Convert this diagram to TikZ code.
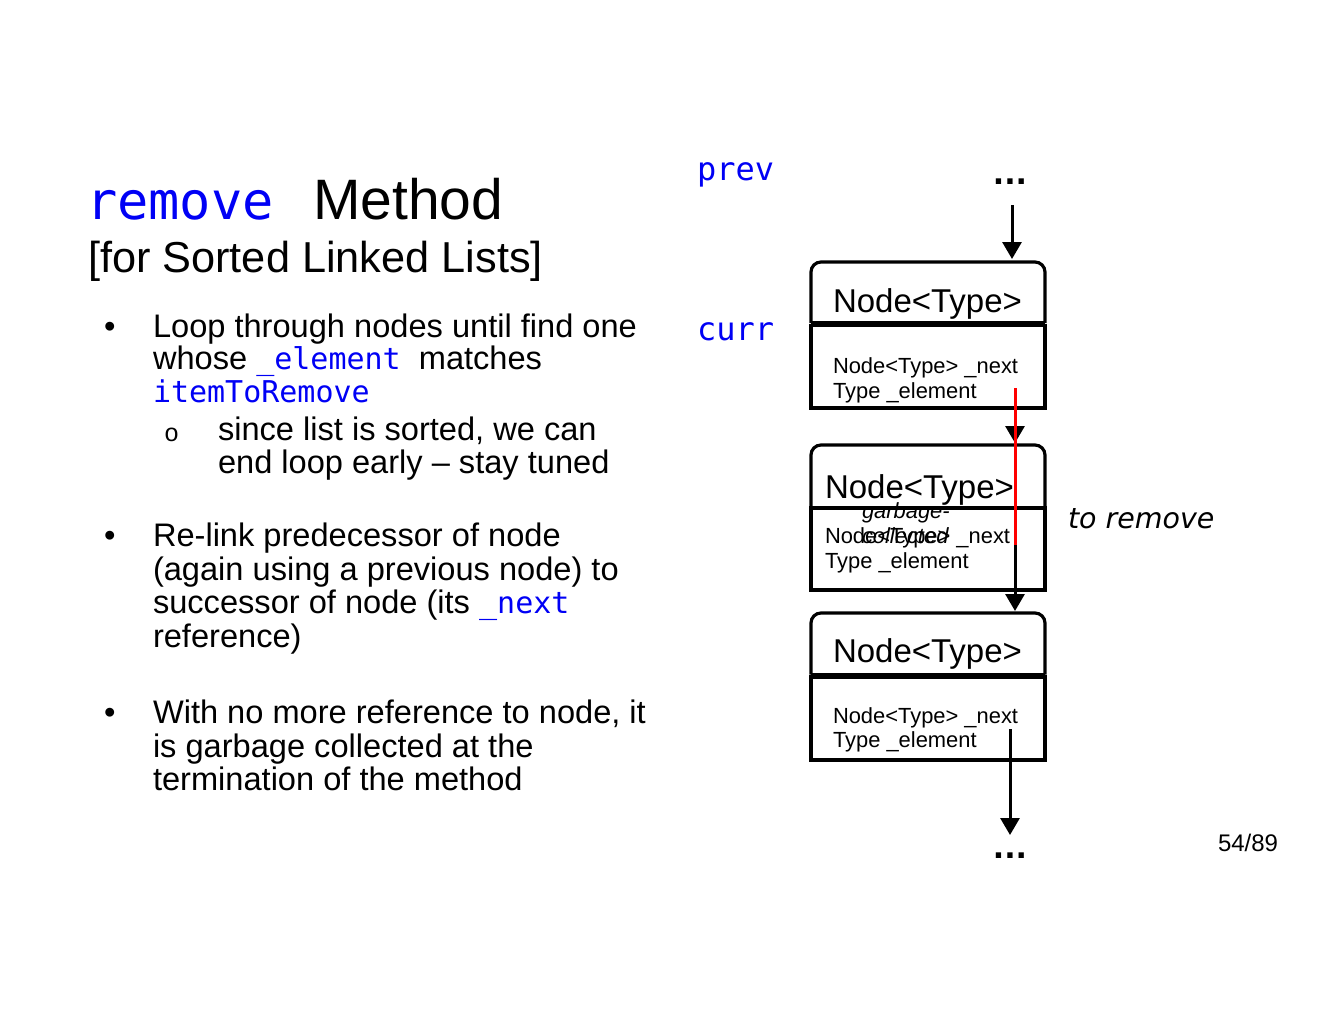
\documentclass[tikz,border=0pt]{standalone}
\usepackage{fontspec}
\setmainfont{Liberation Sans}
\newfontfamily\codefont{DejaVu Sans Mono}
\newfontfamily\dvsans{DejaVu Sans}
\newfontfamily\bulletmono{Liberation Mono}
\usetikzlibrary{arrows.meta}
\definecolor{codeblue}{RGB}{0,0,245}
\newcommand{\inlcode}[1]{{\codefont\fontsize{30}{34}\selectfont\color{codeblue}#1}}
\begin{document}
\begin{tikzpicture}[x=1pt,y=-1pt,
  txt/.style={anchor=base west, inner sep=0pt, outer sep=0pt},
  bodytxt/.style={txt, font=\fontsize{32.6}{34}\selectfont},
  bigcode/.style={txt, font=\codefont\fontsize{32}{34}\selectfont, text=codeblue},
  headtxt/.style={txt, font=\fontsize{33}{34}\selectfont},
  fieldtxt/.style={txt, font=\fontsize{21.9}{24}\selectfont},
  gctxt/.style={txt, font=\itshape\fontsize{21.9}{24}\selectfont},
  part/.style={rectangle, inner sep=0pt, outer sep=0pt, minimum width=234pt},
  partbody/.style={part, draw, line width=3.2pt},
  boxline/.style={line width=3.2pt, black},
  arr/.style={line width=3pt, black, -{Triangle[length=17pt,width=19pt]}},
  relink/.style={line width=3pt, red},
  dotstxt/.style={anchor=base, inner sep=0pt, font=\dvsans\bfseries\fontsize{30}{30}\selectfont},
]
\useasboundingbox (0,0) rectangle (1320,1020);

% title
\node[txt, font=\codefont\fontsize{52}{56}\selectfont, text=codeblue] (ttlcode) at (86,219) {remove};
\node[txt, font=\fontsize{57}{60}\selectfont] (ttlmethod) at (313,219) {Method};
\node[txt, font=\fontsize{43.3}{48}\selectfont] (ttlsub) at (88,272) {[for Sorted Linked Lists]};

% bullet 1
\node[bodytxt] (bul1) at (104,337) {•};
\node[bodytxt] (b1l1) at (153,337) {Loop through nodes until find one};
\node[bodytxt] (b1l2) at (153,369) {whose \inlcode{\_element }matches};
\node[bodytxt] (b1l3) at (153,402) {\inlcode{itemToRemove}};
\node[txt, font=\bulletmono\fontsize{25}{26}\selectfont] (sub1) at (164,441) {o};
\node[bodytxt] (s1l1) at (218,440) {since list is sorted, we can};
\node[bodytxt] (s1l2) at (218,473) {end loop early -- stay tuned};

% bullet 2
\node[bodytxt] (bul2) at (104,546) {•};
\node[bodytxt] (b2l1) at (153,546) {Re-link predecessor of node};
\node[bodytxt] (b2l2) at (153,580) {(again using a previous node) to};
\node[bodytxt] (b2l3) at (153,613) {successor of node (its \inlcode{\_next}};
\node[bodytxt] (b2l4) at (153,647) {reference)};

% bullet 3
\node[bodytxt] (bul3) at (104,723) {•};
\node[bodytxt] (b3l1) at (153,723) {With no more reference to node, it};
\node[bodytxt] (b3l2) at (153,757) {is garbage collected at the};
\node[bodytxt] (b3l3) at (153,790) {termination of the method};

% labels
\node[bigcode] (prevlbl) at (697,180) {prev};
\node[bigcode] (currlbl) at (697,340) {curr};
\node[txt, font=\dvsans\itshape\fontsize{28.5}{30}\selectfont] (toremove) at (1068,528) {to remove};
\node[txt, font=\fontsize{24}{26}\selectfont] (pagenum) at (1218,851) {54/89};

% box 1
\node[part, minimum height=61pt] (h1) at (928,292.5) {};
\node[partbody, minimum height=82.5pt] (b1) at (928,366.75) {};
\draw[boxline, rounded corners=10pt] (h1.south west) -- (h1.north west) -- (h1.north east) -- (h1.south east);
\draw[boxline] (h1.south west) -- (h1.south east);
\node[headtxt] (h1t) at (833,312) {Node<Type>};
\node[fieldtxt] (b1n) at (833,373) {Node<Type> \_next};
\node[fieldtxt] (b1e) at (833,398) {Type \_element};

% box 2
\node[part, minimum height=63pt] (h2) at (928,476.5) {};
\node[partbody, minimum height=82pt] (b2) at (928,549) {};
\draw[boxline, rounded corners=10pt] (h2.south west) -- (h2.north west) -- (h2.north east) -- (h2.south east);
\node[headtxt] (h2t) at (825,498) {Node<Type>};
\node[fieldtxt] (b2n) at (825,543) {Node<Type> \_next};
\node[fieldtxt] (b2e) at (825,568) {Type \_element};
\node[gctxt] (gc1) at (862,518) {garbage-};
\node[gctxt] (gc2) at (862,543) {collected};

% box 3
\node[part, minimum height=61.5pt] (h3) at (928,643.75) {};
\node[partbody, minimum height=83pt] (b3) at (928,718.5) {};
\draw[boxline, rounded corners=10pt] (h3.south west) -- (h3.north west) -- (h3.north east) -- (h3.south east);
\draw[boxline] (h3.south west) -- (h3.south east);
\node[headtxt] (h3t) at (833,662) {Node<Type>};
\node[fieldtxt] (b3n) at (833,723) {Node<Type> \_next};
\node[fieldtxt] (b3e) at (833,747) {Type \_element};

% dots
\node[dotstxt] (topdots) at (1010,184) {...};
\node[dotstxt] (botdots) at (1010,858) {...};

% connectors
\coordinate (topin) at (1012,205);
\coordinate (n1next) at (1015,388);
\coordinate (n2next) at (1015,545);
\coordinate (n3next) at (1010,729);
\coordinate (n3out) at (1010,835);
\draw[arr, shorten >=3pt] (topin) -- (h1.north -| topin);
\draw[arr, shorten >=2pt] (n1next) -- (h2.north -| n1next);
\draw[arr, shorten >=2pt] (n2next) -- (h3.north -| n2next);
\draw[arr] (n3next) -- (n3out);
\draw[relink] (n1next) -- (n2next);
\end{tikzpicture}
\end{document}
